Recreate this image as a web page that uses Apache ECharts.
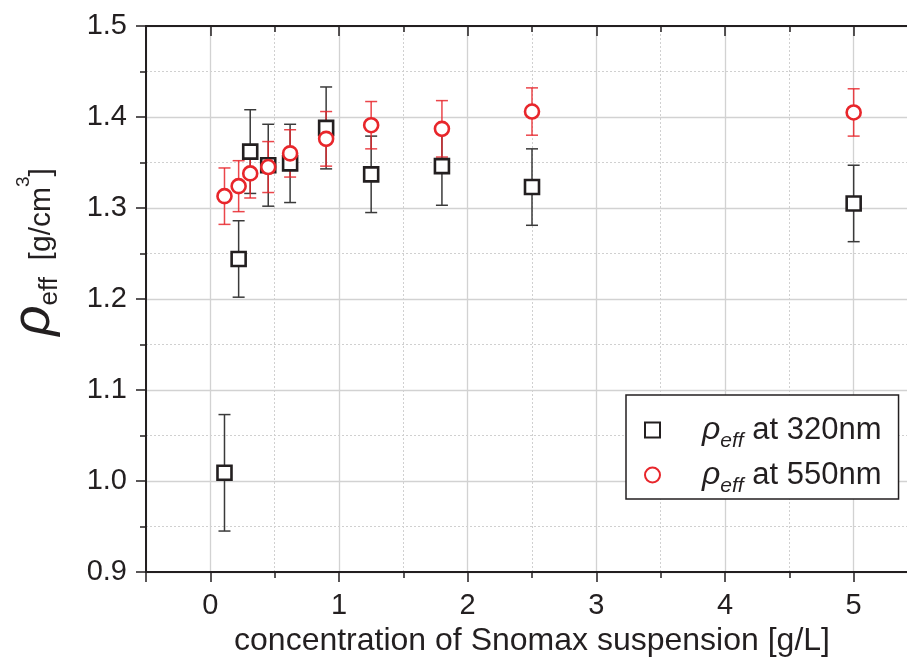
<!DOCTYPE html>
<html>
<head>
<meta charset="utf-8">
<script src="https://cdn.jsdelivr.net/npm/echarts@6/dist/echarts.min.js"></script>
<style>
  html, body { margin: 0; padding: 0; background: #fff; }
  #chart { width: 907px; height: 661px; }
</style>
</head>
<body>
<div id="chart"></div>
<script>
// Snomax suspension concentrations [g/L]
const concentration = [0.11, 0.22, 0.31, 0.45, 0.62, 0.90, 1.25, 1.80, 2.50, 5.00];

// Effective density at 320 nm and its uncertainty [g/cm3]
const rho320 = [1.009, 1.244, 1.362, 1.347, 1.349, 1.388, 1.337, 1.346, 1.323, 1.305];
const err320 = [0.064, 0.042, 0.046, 0.045, 0.043, 0.045, 0.042, 0.043, 0.042, 0.042];

// Effective density at 550 nm and its uncertainty [g/cm3]
const rho550 = [1.313, 1.324, 1.338, 1.345, 1.360, 1.376, 1.391, 1.387, 1.406, 1.405];
const err550 = [0.031, 0.028, 0.027, 0.028, 0.026, 0.030, 0.026, 0.031, 0.026, 0.026];

const yTicks = ['0.9', '1.0', '1.1', '1.2', '1.3', '1.4', '1.5'];

const INK = '#231f20';
const RED = '#e8262b';
const FONT = 'Liberation Sans, Arial, sans-serif';

const pts320 = concentration.map((c, i) => [c, rho320[i]]);
const pts550 = concentration.map((c, i) => [c, rho550[i]]);
const bars320 = concentration.map((c, i) => [c, rho320[i], err320[i]]);
const bars550 = concentration.map((c, i) => [c, rho550[i], err550[i]]);

// vertical error bar with short caps at both ends
function errorBars(color, width) {
  return function (params, api) {
    const x = api.value(0), y = api.value(1), e = api.value(2);
    const hi = api.coord([x, y + e]);
    const lo = api.coord([x, y - e]);
    const cap = 6;
    const style = { stroke: color, lineWidth: width };
    return {
      type: 'group',
      children: [
        { type: 'line', shape: { x1: hi[0], y1: hi[1], x2: lo[0], y2: lo[1] }, style },
        { type: 'line', shape: { x1: hi[0] - cap, y1: hi[1], x2: hi[0] + cap, y2: hi[1] }, style },
        { type: 'line', shape: { x1: lo[0] - cap, y1: lo[1], x2: lo[0] + cap, y2: lo[1] }, style }
      ]
    };
  };
}

const legendRich = {
  r: { fontFamily: FONT, fontSize: 32, fontStyle: 'italic', color: INK, lineHeight: 44, padding: [0, 0, 0, 37] },
  s: { fontFamily: FONT, fontSize: 21, fontStyle: 'italic', color: INK, lineHeight: 16, verticalAlign: 'bottom' },
  t: { fontFamily: FONT, fontSize: 31, color: INK, lineHeight: 44 }
};

// axis title: big rho, subscript "eff", unit with superscript 3
const nameRich = {
  r: { fontFamily: FONT, fontSize: 53, fontStyle: 'italic', color: INK, padding: [0, 0, 14, 0] },
  s: { fontFamily: FONT, fontSize: 26, color: INK, padding: [16, 0, 0, 0] },
  t: { fontFamily: FONT, fontSize: 30, color: INK },
  p: { fontFamily: FONT, fontSize: 19, color: INK, padding: [0, 0, 35, 0] }
};

const chart = echarts.init(document.getElementById('chart'), null, { renderer: 'canvas' });

chart.setOption({
  animation: false,
  backgroundColor: '#ffffff',
  grid: { left: 146, top: 26, width: 772, height: 546, containLabel: false, outerBoundsMode: 'none' },
  legend: {
    orient: 'vertical',
    left: 626,
    top: 395,
    padding: [19, 17, 2, 18],
    itemWidth: 15,
    itemHeight: 15,
    itemGap: 7,
    borderColor: INK,
    borderWidth: 1.5,
    backgroundColor: '#ffffff',
    data: ['320', '550'],
    formatter: function (name) {
      return '{r|ρ}{s|eff}{t| at ' + name + 'nm}';
    },
    textStyle: { rich: legendRich }
  },
  xAxis: [
    {
      type: 'value',
      min: -0.5,
      max: 5.5,
      splitNumber: 6,
      name: 'concentration of Snomax suspension [g/L]',
      nameLocation: 'middle',
      nameGap: 53,
      nameTextStyle: { fontFamily: FONT, fontSize: 32, color: INK },
      axisLine: { show: true, onZero: false, lineStyle: { color: INK, width: 2 } },
      axisTick: { show: true, inside: false, length: 10, lineStyle: { color: INK, width: 1.5 } },
      minorTick: { show: true, splitNumber: 2, length: 6, lineStyle: { color: INK, width: 1.5 } },
      axisLabel: {
        margin: 19,
        fontFamily: FONT,
        fontSize: 29,
        color: INK,
        formatter: v => (Math.abs(v - Math.round(v)) < 1e-6 ? String(Math.round(v)) : '')
      },
      splitLine: { show: true, lineStyle: { color: '#d2d2d2', width: 1.3 } },
      minorSplitLine: { show: true, lineStyle: { color: '#d0d0d0', width: 1, type: [2, 2] } }
    },
    {
      type: 'value',
      position: 'top',
      min: -0.5,
      max: 5.5,
      splitNumber: 6,
      axisLine: { show: true, onZero: false, lineStyle: { color: INK, width: 2 } },
      axisTick: { show: true, inside: true, length: 10, lineStyle: { color: INK, width: 1.5 } },
      minorTick: { show: true, splitNumber: 2, length: 6, lineStyle: { color: INK, width: 1.5 } },
      axisLabel: { show: false },
      splitLine: { show: false }
    }
  ],
  yAxis: {
    type: 'value',
    min: 0.9,
    max: 1.5,
    interval: 0.1,
    name: '{r|ρ}{s|eff}{t|  [g/cm}{p|3}{t|]}',
    nameLocation: 'middle',
    nameRotate: 90,
    nameGap: 71,
    nameTextStyle: { rich: nameRich, padding: [0, 0, 0, 94] },
    axisLine: { show: true, onZero: false, lineStyle: { color: INK, width: 2 } },
    axisTick: { show: true, inside: false, length: 10, lineStyle: { color: INK, width: 1.5 } },
    minorTick: { show: true, splitNumber: 2, length: 6, lineStyle: { color: INK, width: 1.5 } },
    axisLabel: {
      margin: 19,
      fontFamily: FONT,
      fontSize: 29,
      color: INK,
      formatter: v => yTicks[Math.round((v - 0.9) * 10)] || ''
    },
    splitLine: { show: true, lineStyle: { color: '#d2d2d2', width: 1.3 } },
    minorSplitLine: { show: true, lineStyle: { color: '#d0d0d0', width: 1, type: [2, 2] } }
  },
  series: [
    {
      type: 'custom',
      name: 'err320',
      data: bars320,
      renderItem: errorBars('#3a3a3a', 1.5),
      encode: { x: 0, y: 1 },
      z: 2,
      silent: true
    },
    {
      type: 'custom',
      name: 'err550',
      data: bars550,
      renderItem: errorBars('rgba(232,38,43,0.85)', 1.5),
      encode: { x: 0, y: 1 },
      z: 2,
      silent: true
    },
    {
      type: 'scatter',
      name: '320',
      data: pts320,
      symbol: 'rect',
      symbolSize: 14,
      itemStyle: { color: '#ffffff', borderColor: INK, borderWidth: 2.6, opacity: 1 },
      z: 3
    },
    {
      type: 'scatter',
      name: '550',
      data: pts550,
      symbol: 'circle',
      symbolSize: 14,
      itemStyle: { color: '#ffffff', borderColor: RED, borderWidth: 2.6, opacity: 1 },
      z: 4
    }
  ]
});
</script>
</body>
</html>
